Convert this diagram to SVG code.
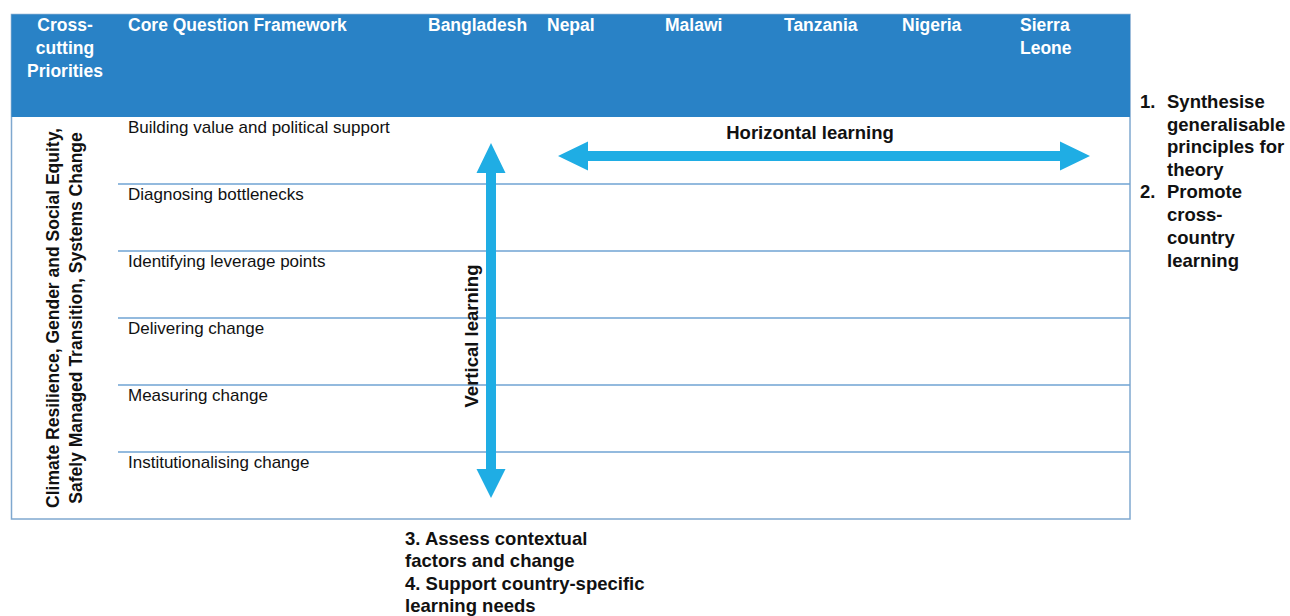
<svg xmlns="http://www.w3.org/2000/svg" width="1290" height="616" viewBox="0 0 1290 616">
<style>
.hd{font-family:"Liberation Sans",Arial,sans-serif;font-weight:bold;font-size:17.5px;fill:#ffffff}
.rl{font-family:"Liberation Sans",Arial,sans-serif;font-size:17px;fill:#111111}
.bl{font-family:"Liberation Sans",Arial,sans-serif;font-weight:bold;fill:#111111}
.sep{stroke:#6FA3D3;stroke-width:1.5}
.arr{fill:#1FADE4}
</style>
<rect x="0" y="0" width="1290" height="616" fill="#ffffff"/>
<g id="table">
<rect x="11.5" y="14.5" width="1118.5" height="504.5" fill="#ffffff" stroke="#7FA8CF" stroke-width="1.5"/>
<rect x="11.5" y="14.5" width="1118.5" height="102.5" fill="#2982C6"/>
<g class="sep">
<line x1="118" y1="184" x2="1130" y2="184"/>
<line x1="118" y1="251" x2="1130" y2="251"/>
<line x1="118" y1="318" x2="1130" y2="318"/>
<line x1="118" y1="385" x2="1130" y2="385"/>
<line x1="118" y1="452" x2="1130" y2="452"/>
</g>
</g>
<g id="header">
<text class="hd" x="65" y="31" text-anchor="middle">Cross-</text>
<text class="hd" x="65" y="54" text-anchor="middle">cutting</text>
<text class="hd" x="65" y="77" text-anchor="middle">Priorities</text>
<text class="hd" x="128" y="31">Core Question Framework</text>
<text class="hd" x="428" y="31">Bangladesh</text>
<text class="hd" x="547" y="31">Nepal</text>
<text class="hd" x="665" y="31">Malawi</text>
<text class="hd" x="784" y="31">Tanzania</text>
<text class="hd" x="902" y="31">Nigeria</text>
<text class="hd" x="1020" y="31">Sierra</text>
<text class="hd" x="1020" y="54">Leone</text>
</g>
<g id="rows">
<text class="rl" x="128" y="133">Building value and political support</text>
<text class="rl" x="128" y="200">Diagnosing bottlenecks</text>
<text class="rl" x="128" y="267">Identifying leverage points</text>
<text class="rl" x="128" y="334">Delivering change</text>
<text class="rl" x="128" y="401">Measuring change</text>
<text class="rl" x="128" y="468">Institutionalising change</text>
</g>
<g id="priorities">
<text class="bl" font-size="17.5" transform="translate(59,318) rotate(-90)" text-anchor="middle">Climate Resilience, Gender and Social Equity,</text>
<text class="bl" font-size="17.5" transform="translate(82,318) rotate(-90)" text-anchor="middle">Safely Managed Transition, Systems Change</text>
</g>
<g id="connectors">
<path class="arr" d="M491,143 L505.5,173 L496,173 L496,469 L505.5,469 L491,498 L476.5,469 L486,469 L486,173 L476.5,173 Z"/>
<path class="arr" d="M558,156 L588,141.5 L588,151 L1060,151 L1060,141.5 L1090,156 L1060,170.5 L1060,161 L588,161 L588,170.5 Z"/>
</g>
<g id="labels">
<text class="bl" font-size="18.5" x="810" y="139" text-anchor="middle">Horizontal learning</text>
<text class="bl" font-size="18.5" transform="translate(478,336) rotate(-90)" text-anchor="middle">Vertical learning</text>
</g>
<g id="right-notes" class="bl" font-size="18.5">
<text x="1140" y="108">1.</text>
<text x="1167" y="108">Synthesise</text>
<text x="1167" y="131">generalisable</text>
<text x="1167" y="153">principles for</text>
<text x="1167" y="176">theory</text>
<text x="1140" y="198">2.</text>
<text x="1167" y="198">Promote</text>
<text x="1167" y="221">cross-</text>
<text x="1167" y="244">country</text>
<text x="1167" y="267">learning</text>
</g>
<g id="bottom-notes" class="bl" font-size="18.5">
<text x="405" y="545">3. Assess contextual</text>
<text x="405" y="567">factors and change</text>
<text x="405" y="590">4. Support country-specific</text>
<text x="405" y="612">learning needs</text>
</g>
</svg>
